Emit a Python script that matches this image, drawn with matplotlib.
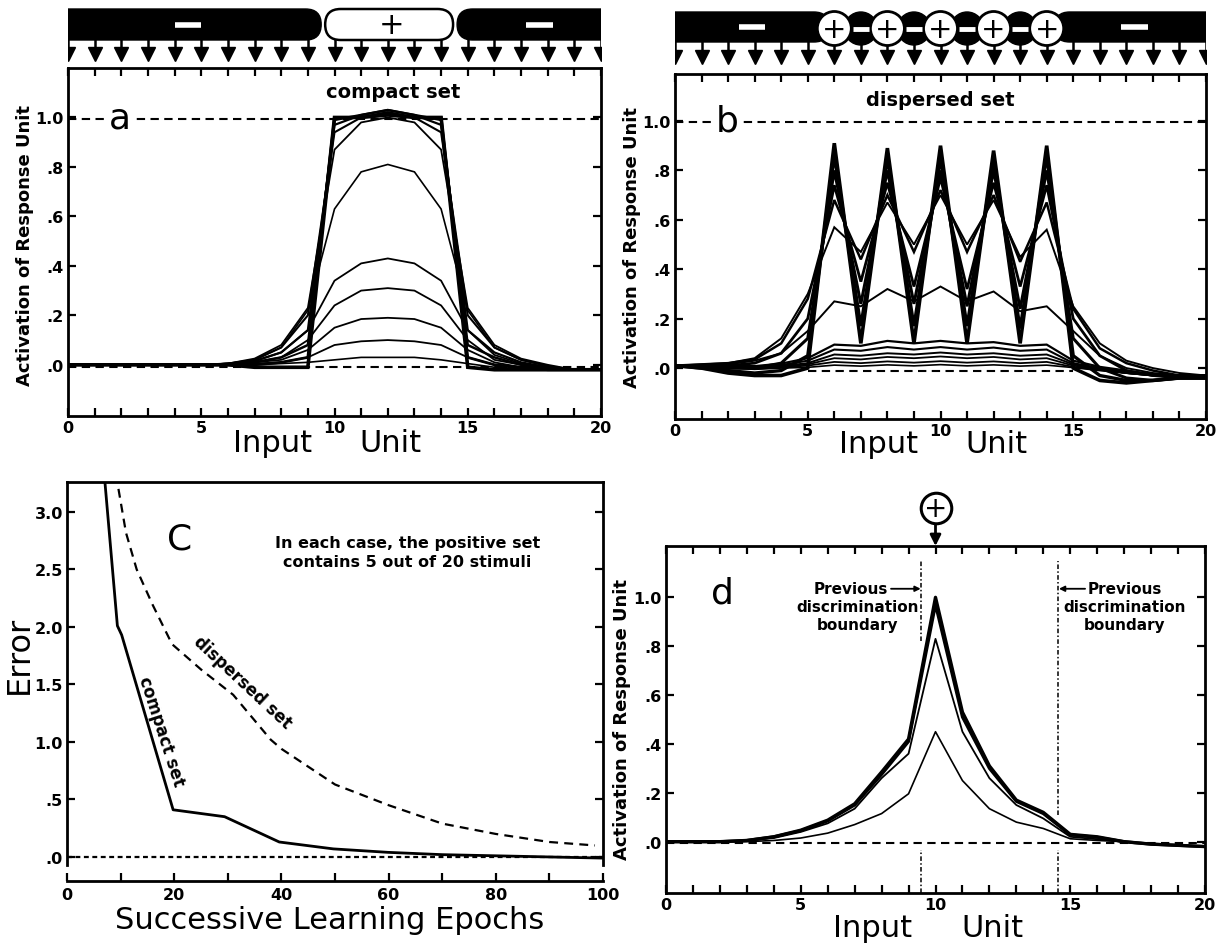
import numpy as np
import matplotlib
matplotlib.use('Agg')
import matplotlib.pyplot as plt
from matplotlib.patches import FancyBboxPatch, Rectangle, Circle
import matplotlib.transforms as mtrans

plt.rcParams['font.family'] = ['DejaVu Sans']

# ---------------- data ----------------
input_units = list(range(21))
x_tick_vals = [0, 5, 10, 15, 20]
x_tick_labels = ['0', '5', '10', '15', '20']
act_tick_vals = [0.0, 0.2, 0.4, 0.6, 0.8, 1.0]
act_tick_labels = ['.0', '.2', '.4', '.6', '.8', '1.0']

# panel a: compact set, successive epochs
compact_curves = [
    [0, 0, 0, 0, 0, 0, 0, 0, 0.005, 0.01, 0.02, 0.03, 0.03, 0.03, 0.02, 0.005, -0.01, -0.015, -0.02, -0.02, -0.02],
    [0, 0, 0, 0, 0, 0, 0, 0.005, 0.01, 0.03, 0.08, 0.095, 0.10, 0.095, 0.08, 0.03, 0.0, -0.01, -0.02, -0.02, -0.02],
    [0, 0, 0, 0, 0, 0, 0, 0.01, 0.02, 0.06, 0.15, 0.185, 0.19, 0.185, 0.15, 0.06, 0.01, -0.01, -0.015, -0.02, -0.02],
    [0, 0, 0, 0, 0, 0, 0.005, 0.01, 0.03, 0.10, 0.24, 0.30, 0.31, 0.30, 0.24, 0.10, 0.02, 0.0, -0.015, -0.02, -0.02],
    [0, 0, 0, 0, 0, 0, 0.005, 0.015, 0.05, 0.14, 0.34, 0.41, 0.43, 0.41, 0.34, 0.14, 0.04, 0.005, -0.01, -0.02, -0.02],
    [0, 0, 0, 0, 0, 0, 0.005, 0.02, 0.07, 0.22, 0.63, 0.78, 0.81, 0.78, 0.63, 0.22, 0.07, 0.02, -0.005, -0.02, -0.02],
    [0, 0, 0, 0, 0, 0, 0.005, 0.025, 0.08, 0.23, 0.87, 0.98, 1.00, 0.98, 0.87, 0.23, 0.08, 0.025, 0.0, -0.02, -0.02],
    [0, 0, 0, 0, 0, 0, 0.005, 0.02, 0.07, 0.20, 0.94, 1.00, 1.02, 1.00, 0.94, 0.20, 0.07, 0.02, -0.005, -0.02, -0.02],
    [0, 0, 0, 0, 0, 0, 0, 0.015, 0.05, 0.14, 0.97, 1.01, 1.03, 1.01, 0.97, 0.14, 0.05, 0.01, -0.01, -0.02, -0.02],
    [0, 0, 0, 0, 0, 0, 0, 0.01, 0.03, 0.08, 0.99, 1.01, 1.03, 1.01, 0.99, 0.08, 0.03, 0.0, -0.015, -0.02, -0.02],
    [0, 0, 0, 0, 0, 0, 0, 0, 0.01, 0.03, 1.00, 1.00, 1.02, 1.00, 1.00, 0.03, 0.0, -0.01, -0.02, -0.02, -0.02],
    [0, 0, 0, 0, 0, 0, 0, -0.01, -0.01, -0.01, 1.00, 1.00, 1.01, 1.00, 1.00, -0.01, -0.02, -0.02, -0.02, -0.02, -0.02],
]
compact_widths = [1.2, 1.3, 1.3, 1.3, 1.3, 1.2, 1.3, 1.5, 1.6, 1.8, 2.0, 2.6]

# panel b: dispersed set, successive epochs
dispersed_curves = [
    [0.01, 0.005, 0.0, -0.005, 0.0, 0.003, 0.012, 0.008, 0.013, 0.009, 0.014, 0.009, 0.013, 0.008, 0.012, 0.002, -0.01, -0.02, -0.03, -0.03, -0.03],
    [0.01, 0.005, 0.0, -0.003, 0.003, 0.01, 0.025, 0.02, 0.027, 0.022, 0.028, 0.022, 0.027, 0.02, 0.025, 0.005, -0.008, -0.02, -0.03, -0.03, -0.03],
    [0.01, 0.006, 0.002, 0.0, 0.005, 0.015, 0.04, 0.035, 0.045, 0.04, 0.047, 0.04, 0.045, 0.035, 0.04, 0.01, -0.005, -0.02, -0.03, -0.03, -0.03],
    [0.01, 0.007, 0.003, 0.002, 0.008, 0.02, 0.055, 0.05, 0.06, 0.055, 0.063, 0.055, 0.06, 0.05, 0.055, 0.015, -0.003, -0.02, -0.03, -0.03, -0.03],
    [0.01, 0.008, 0.005, 0.005, 0.012, 0.03, 0.075, 0.07, 0.085, 0.075, 0.085, 0.075, 0.083, 0.07, 0.075, 0.02, 0.0, -0.015, -0.025, -0.03, -0.03],
    [0.01, 0.01, 0.008, 0.008, 0.018, 0.04, 0.095, 0.09, 0.11, 0.10, 0.11, 0.10, 0.105, 0.09, 0.095, 0.03, 0.005, -0.01, -0.025, -0.03, -0.03],
    [0.01, 0.012, 0.015, 0.03, 0.06, 0.15, 0.27, 0.25, 0.32, 0.27, 0.33, 0.27, 0.31, 0.23, 0.25, 0.15, 0.05, 0.0, -0.02, -0.03, -0.03],
    [0.01, 0.015, 0.02, 0.04, 0.12, 0.30, 0.57, 0.47, 0.67, 0.50, 0.70, 0.50, 0.68, 0.45, 0.56, 0.25, 0.10, 0.03, 0.0, -0.02, -0.03],
    [0.01, 0.015, 0.02, 0.035, 0.10, 0.28, 0.68, 0.44, 0.70, 0.47, 0.72, 0.47, 0.70, 0.43, 0.67, 0.24, 0.08, 0.02, -0.01, -0.03, -0.03],
    [0.01, 0.01, 0.01, 0.02, 0.06, 0.20, 0.74, 0.35, 0.75, 0.33, 0.77, 0.32, 0.75, 0.33, 0.74, 0.20, 0.05, -0.01, -0.03, -0.04, -0.04],
    [0.01, 0.005, 0.0, 0.0, 0.02, 0.12, 0.80, 0.26, 0.80, 0.26, 0.80, 0.25, 0.80, 0.24, 0.80, 0.12, 0.0, -0.04, -0.05, -0.04, -0.04],
    [0.01, 0.0, -0.01, -0.02, -0.01, 0.05, 0.86, 0.17, 0.85, 0.17, 0.85, 0.17, 0.84, 0.16, 0.86, 0.05, -0.03, -0.05, -0.05, -0.04, -0.04],
    [0.01, 0.0, -0.02, -0.03, -0.03, 0.0, 0.91, 0.10, 0.89, 0.10, 0.90, 0.10, 0.88, 0.10, 0.90, 0.0, -0.05, -0.06, -0.05, -0.04, -0.04],
]
dispersed_widths = [1.2, 1.3, 1.3, 1.4, 1.5, 1.6, 1.4, 1.4, 1.8, 2.0, 2.2, 2.4, 2.6]

# panel c: error vs epochs
compact_epochs = [7.0, 9.4, 10.2, 19.8, 29.4, 39.6, 49.7, 59.9, 70, 80, 90, 100]
compact_error = [3.30, 2.01, 1.93, 0.41, 0.35, 0.13, 0.07, 0.04, 0.02, 0.01, 0.0, -0.01]
dispersed_epochs = [9.6, 11, 13, 16, 19.6, 25, 31, 38, 40, 50, 60, 70, 80, 90, 98.5]
dispersed_error = [3.20, 2.82, 2.50, 2.19, 1.85, 1.63, 1.41, 1.02, 0.94, 0.63, 0.45, 0.29, 0.20, 0.13, 0.10]
epoch_major = [0, 20, 40, 60, 80, 100]
epoch_major_labels = ['0', '20', '40', '60', '80', '100']
epoch_minor = [10, 30, 50, 70, 90]
error_ticks = [0.0, 0.5, 1.0, 1.5, 2.0, 2.5, 3.0]
error_tick_labels = ['.0', '.5', '1.0', '1.5', '2.0', '2.5', '3.0']

# panel d: generalisation to a new stimulus at unit 10
general_curves = [
    [0, 0, 0, 0, 0.005, 0.015, 0.035, 0.07, 0.115, 0.196, 0.45, 0.25, 0.135, 0.08, 0.054, 0.012, 0.005, 0.0, -0.01, -0.015, -0.02],
    [0, 0, 0, 0.005, 0.015, 0.04, 0.075, 0.135, 0.26, 0.36, 0.83, 0.45, 0.26, 0.15, 0.095, 0.02, 0.01, 0.0, -0.01, -0.015, -0.02],
    [0, 0, 0, 0.005, 0.02, 0.045, 0.085, 0.15, 0.275, 0.41, 0.97, 0.51, 0.30, 0.165, 0.115, 0.028, 0.018, 0.0, -0.01, -0.015, -0.02],
    [0, 0, 0, 0.005, 0.02, 0.047, 0.088, 0.155, 0.285, 0.42, 1.00, 0.53, 0.31, 0.17, 0.12, 0.03, 0.02, 0.0, -0.01, -0.015, -0.02],
]
general_widths = [1.2, 1.3, 2.2, 2.4]

# ---------------- figure ----------------
W, H = 1220, 945
fig = plt.figure(figsize=(W / 100, H / 100), dpi=100)


def px_ax(l, t, r, b):
    return fig.add_axes([l / W, 1 - b / H, (r - l) / W, (b - t) / H])


def ftext(xp, yp, s, **kw):
    return fig.text(xp / W, 1 - yp / H, s, **kw)


TICKFONT = dict(fontsize=11.5, fontweight='bold')
YLAB = dict(rotation=90, ha='center', va='center', fontsize=13, fontweight='bold')


def style_act(ax, ylim):
    ax.set_xlim(0, 20)
    ax.set_ylim(*ylim)
    ax.set_xticks(x_tick_vals)
    ax.set_xticklabels(x_tick_labels, **TICKFONT)
    ax.set_xticks(input_units, minor=True)
    ax.set_yticks(act_tick_vals)
    ax.set_yticklabels(act_tick_labels, **TICKFONT)
    ax.tick_params(axis='both', which='both', direction='in', length=6, width=1.6,
                   top=True, right=True, pad=3)
    for s in ax.spines.values():
        s.set_linewidth(2.0)


def xlabel_split(ax, yaxes):
    tr = mtrans.blended_transform_factory(ax.transData, ax.transAxes)
    ax.text(9.15, yaxes, 'Input', transform=tr, ha='right', va='center', fontsize=22)
    ax.text(10.95, yaxes, 'Unit', transform=tr, ha='left', va='center', fontsize=22)


def make_strip(l, r, t, b):
    ax = px_ax(l, t, r, b)
    upp = 20.0 / (r - l)
    ax.set_xlim(0, 20)
    ax.set_ylim(0, (b - t) * upp)
    ax.axis('off')
    return ax, (lambda p: (b - p) * upp), upp


def minus(ax, xc, yc, half, lw=4):
    ax.plot([xc - half, xc + half], [yc, yc], color='white', lw=lw, solid_capstyle='butt', zorder=6)


# ===== panel a =====
axa = px_ax(68, 69, 601, 417)
style_act(axa, (-0.207, 1.2))
axa.axhline(0.995, color='k', lw=1.5, ls=(0, (4, 2.6)), zorder=1)
axa.axhline(-0.01, color='k', lw=1.5, ls=(0, (4, 2.6)), zorder=1)
for ys, lw in zip(compact_curves, compact_widths):
    axa.plot(input_units, ys, color='k', lw=lw, zorder=3, solid_joinstyle='miter')
axa.text(1.95, 1.0, 'a', fontsize=26, ha='center', va='center', zorder=4,
         bbox=dict(fc='white', ec='none', pad=1))
axa.text(12.2, 1.105, 'compact set', fontsize=14, fontweight='bold', ha='center', va='center')
xlabel_split(axa, -0.075)
ftext(25, 245, 'Activation of Response Unit', **YLAB)

# strip a
sa, ya, upp = make_strip(68, 601, 4, 66)
h = 31 * upp
y0 = ya(41)
yc = y0 + h / 2
sa.add_patch(FancyBboxPatch((-1.5, y0), 11.0, h, boxstyle=f"round,pad=0,rounding_size={h/2}",
                            fc='k', ec='k', lw=1))
sa.add_patch(FancyBboxPatch((9.65, y0), 4.8, h, boxstyle=f"round,pad=0,rounding_size={h/2}",
                            fc='white', ec='k', lw=1.8))
sa.add_patch(FancyBboxPatch((14.6, y0), 7.0, h, boxstyle=f"round,pad=0,rounding_size={h/2}",
                            fc='k', ec='k', lw=1))
minus(sa, 4.5, yc, 0.5)
minus(sa, 17.7, yc, 0.5)
sa.text(12.15, yc, '+', fontsize=22, ha='center', va='center', color='k')
for xi in input_units:
    sa.plot([xi, xi], [ya(41), ya(50)], color='k', lw=1.8)
    sa.plot(xi, ya(55), marker='v', ms=10, color='k')

# ===== panel b =====
axb = px_ax(675, 75, 1206, 420)
style_act(axb, (-0.206, 1.19))
axb.axhline(0.995, color='k', lw=1.5, ls=(0, (4, 2.6)), zorder=1)
axb.plot([5, 15], [-0.012, -0.012], color='k', lw=1.5, ls=(0, (4, 2.6)), zorder=1)
for ys, lw in zip(dispersed_curves, dispersed_widths):
    axb.plot(input_units, ys, color='k', lw=lw, zorder=3, solid_joinstyle='miter')
axb.text(1.95, 1.0, 'b', fontsize=26, ha='center', va='center', zorder=4,
         bbox=dict(fc='white', ec='none', pad=1))
axb.text(10.0, 1.085, 'dispersed set', fontsize=14, fontweight='bold', ha='center', va='center')
xlabel_split(axb, -0.07)
ftext(632, 248, 'Activation of Response Unit', **YLAB)

# strip b
sb, yb, upp = make_strip(675, 1206, 6, 70)
h = 30 * upp
y0 = yb(43)
yc = y0 + h / 2
sb.add_patch(FancyBboxPatch((-1.5, y0), 7.3, h, boxstyle=f"round,pad=0,rounding_size={h/2}",
                            fc='k', ec='k', lw=1))
sb.add_patch(FancyBboxPatch((14.3, y0), 7.0, h, boxstyle=f"round,pad=0,rounding_size={h/2}",
                            fc='k', ec='k', lw=1))
ycirc = yb(29.5)
for xi in [7, 9, 11, 13]:
    sb.add_patch(Circle((xi, ycirc), 16.5 * upp, fc='k', ec='k'))
for xi in [6, 8, 10, 12, 14]:
    sb.add_patch(Circle((xi, ycirc), 17 * upp, fc='white', ec='k', lw=2.0, zorder=4))
    sb.text(xi, ycirc, '+', fontsize=21, ha='center', va='center', color='k', zorder=5)
for xi in [7, 9, 11, 13]:
    minus(sb, xi, ycirc, 0.3, lw=3.5)
minus(sb, 2.9, yc, 0.5)
minus(sb, 17.3, yc, 0.5)
for xi in input_units:
    sb.plot([xi, xi], [yb(43), yb(53)], color='k', lw=1.8)
    sb.plot(xi, yb(58), marker='v', ms=10, color='k')

# ===== panel c =====
axc = px_ax(67, 483, 603, 866)
axc.spines['bottom'].set_position(('outward', 11.5))
axc.set_xlim(0, 100)
axc.set_ylim(-0.07, 3.26)
axc.plot(compact_epochs, compact_error, color='k', lw=2.0)
axc.plot(dispersed_epochs, dispersed_error, color='k', lw=1.6, ls=(0, (4, 2.8)))
axc.axhline(0.0, color='k', lw=1.6, ls=(0, (2.2, 1.6)), zorder=1)
axc.set_xticks(epoch_major)
axc.set_xticklabels(epoch_major_labels, **TICKFONT)
axc.set_xticks(epoch_minor, minor=True)
axc.set_yticks(error_ticks)
axc.set_yticklabels(error_tick_labels, **TICKFONT)
for s in axc.spines.values():
    s.set_linewidth(2.0)
axc.tick_params(axis='x', which='both', direction='in', length=6, width=1.6, top=False, pad=4)
axc.tick_params(axis='y', which='both', direction='in', length=6, width=1.6, right=True, pad=3)
axc.text(21, 2.77, 'C', fontsize=26, ha='center', va='center')
axc.text(63.5, 2.65, 'In each case, the positive set\ncontains 5 out of 20 stimuli',
         fontsize=11.5, fontweight='bold', ha='center', va='center', linespacing=1.3)
axc.text(17.6, 1.1, 'compact set', fontsize=12, fontweight='bold', rotation=-72,
         ha='center', va='center', rotation_mode='anchor')
axc.text(32.7, 1.52, 'dispersed set', fontsize=12, fontweight='bold', rotation=-43,
         ha='center', va='center', rotation_mode='anchor')
ftext(19, 655, 'Error', rotation=90, ha='center', va='center', fontsize=23)
ftext(330, 921, 'Successive Learning Epochs', ha='center', va='center', fontsize=22)

# ===== panel d =====
axd = px_ax(666, 547, 1205, 894)
style_act(axd, (-0.21, 1.21))
axd.axhline(-0.007, color='k', lw=1.5, ls=(0, (4, 2.6)), zorder=1)
for ys, lw in zip(general_curves, general_widths):
    axd.plot(input_units, ys, color='k', lw=lw, zorder=3)
for xb, top_seg in [(9.47, 0.82), (14.55, 0.11)]:
    axd.plot([xb, xb], [top_seg, 1.15], color='k', lw=1.1, ls=(0, (3, 1.5, 1, 1.5)), zorder=2)
    axd.plot([xb, xb], [-0.21, -0.035], color='k', lw=1.1, ls=(0, (3, 1.5, 1, 1.5)), zorder=2)
axd.text(2.1, 1.02, 'd', fontsize=26, ha='center', va='center')
bfont = dict(fontsize=11, fontweight='bold')
axd.text(8.25, 1.035, 'Previous', ha='right', va='center', **bfont)
axd.annotate('', xy=(9.45, 1.035), xytext=(8.35, 1.035),
             arrowprops=dict(arrowstyle='-|>', color='k', lw=1.3, mutation_scale=8,
                             shrinkA=0, shrinkB=0))
axd.text(7.1, 0.963, 'discrimination', ha='center', va='center', **bfont)
axd.text(7.1, 0.89, 'boundary', ha='center', va='center', **bfont)
axd.annotate('', xy=(14.58, 1.035), xytext=(15.55, 1.035),
             arrowprops=dict(arrowstyle='-|>', color='k', lw=1.3, mutation_scale=8,
                             shrinkA=0, shrinkB=0))
axd.text(15.65, 1.035, 'Previous', ha='left', va='center', **bfont)
axd.text(17.0, 0.963, 'discrimination', ha='center', va='center', **bfont)
axd.text(17.0, 0.89, 'boundary', ha='center', va='center', **bfont)
xlabel_split(axd, -0.1)
ftext(622, 720, 'Activation of Response Unit', **YLAB)

# new positive stimulus marker above d
ypx = lambda p: (843 - p) / 245.0
axd.plot(10, ypx(508), marker='o', ms=22, mfc='white', mec='k', mew=2.2, clip_on=False, zorder=5)
axd.text(10, ypx(508), '+', fontsize=20, ha='center', va='center', zorder=6, clip_on=False)
axd.annotate('', xy=(10, 1.21), xytext=(10, ypx(523)), annotation_clip=False,
             arrowprops=dict(arrowstyle='-|>', color='k', lw=2, mutation_scale=16,
                             shrinkA=0, shrinkB=0))

fig.savefig('out.png', dpi=100)
